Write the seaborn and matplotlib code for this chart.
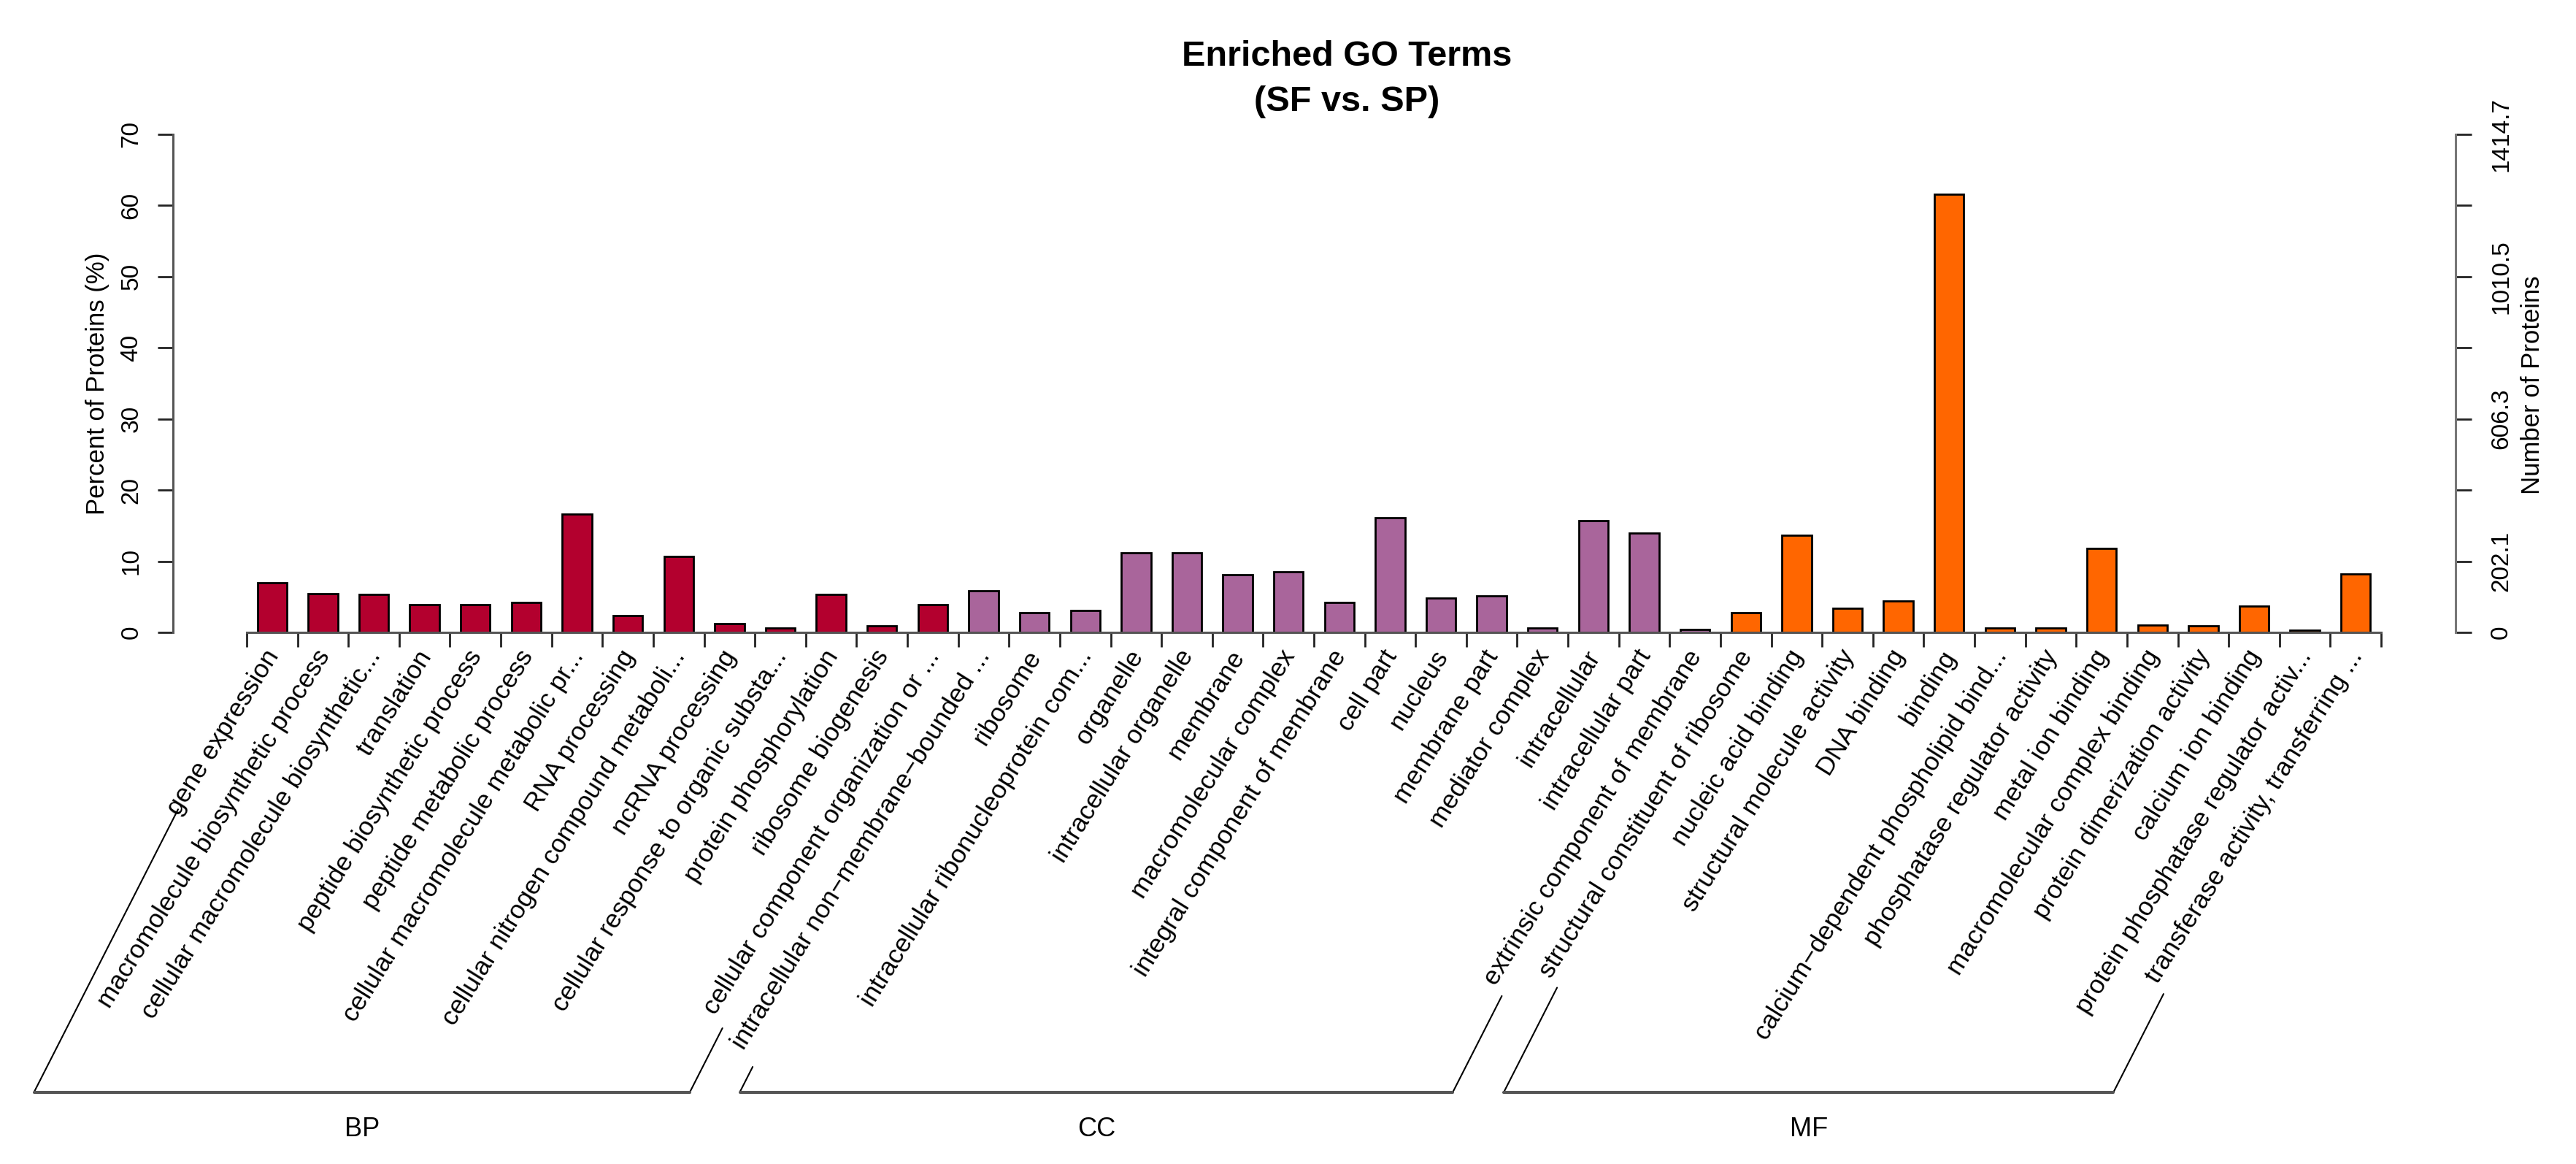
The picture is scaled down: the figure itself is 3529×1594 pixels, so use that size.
import numpy as np
import pandas as pd
import matplotlib
matplotlib.use("Agg")
import matplotlib.pyplot as plt
from matplotlib.lines import Line2D
import seaborn as sns

# ---- data ----
BP_TERMS = [
    "gene expression",
    "macromolecule biosynthetic process",
    "cellular macromolecule biosynthetic...",
    "translation",
    "peptide biosynthetic process",
    "peptide metabolic process",
    "cellular macromolecule metabolic pr...",
    "RNA processing",
    "cellular nitrogen compound metaboli...",
    "ncRNA processing",
    "cellular response to organic substa...",
    "protein phosphorylation",
    "ribosome biogenesis",
    "cellular component organization or ...",
]
BP_PERCENT = [7.0, 5.4, 5.3, 3.95, 3.95, 4.25, 16.6, 2.4, 10.7, 1.2, 0.65, 5.3, 0.9, 3.95]

CC_TERMS = [
    "intracellular non\u2212membrane\u2212bounded ...",
    "ribosome",
    "intracellular ribonucleoprotein com...",
    "organelle",
    "intracellular organelle",
    "membrane",
    "macromolecular complex",
    "integral component of membrane",
    "cell part",
    "nucleus",
    "membrane part",
    "mediator complex",
    "intracellular",
    "intracellular part",
    "extrinsic component of membrane",
]
CC_PERCENT = [5.9, 2.8, 3.1, 11.2, 11.2, 8.1, 8.5, 4.2, 16.1, 4.8, 5.1, 0.6, 15.7, 14.0, 0.4]

MF_TERMS = [
    "structural constituent of ribosome",
    "nucleic acid binding",
    "structural molecule activity",
    "DNA binding",
    "binding",
    "calcium\u2212dependent phospholipid bind...",
    "phosphatase regulator activity",
    "metal ion binding",
    "macromolecular complex binding",
    "protein dimerization activity",
    "calcium ion binding",
    "protein phosphatase regulator activ...",
    "transferase activity, transferring ...",
]
MF_PERCENT = [2.8, 13.7, 3.4, 4.4, 61.6, 0.6, 0.6, 11.8, 1.0, 0.9, 3.7, 0.35, 8.2]

GROUPS = ["BP", "CC", "MF"]
GROUP_COLORS = {"BP": "#B3002E", "CC": "#A9659B", "MF": "#FF6600"}

N_PROTEINS = 2021
LEFT_TICKS = [0, 10, 20, 30, 40, 50, 60, 70]
RIGHT_TICK_LABELS = ["0", "202.1", "", "606.3", "", "1010.5", "", "1414.7"]

TITLE = "Enriched GO Terms"
SUBTITLE = "(SF vs. SP)"

# ---- layout (pixels) ----
W, H = 3530, 1594
DPI = 100
LABEL_ANGLE = 58
BRACKET_ANGLE = 63


def main():
    sns.set_style("white")
    plt.rcParams["font.family"] = ["Liberation Sans", "DejaVu Sans"]
    plt.rcParams["text.color"] = "black"
    plt.rcParams["xtick.color"] = "black"
    plt.rcParams["ytick.color"] = "black"

    terms = BP_TERMS + CC_TERMS + MF_TERMS
    df = pd.DataFrame({
        "term": terms,
        "percent": BP_PERCENT + CC_PERCENT + MF_PERCENT,
        "group": ["BP"] * len(BP_TERMS) + ["CC"] * len(CC_TERMS) + ["MF"] * len(MF_TERMS),
    })
    n = len(terms)

    fig = plt.figure(figsize=(W / DPI, H / DPI), dpi=DPI)
    ax = fig.add_axes([237 / W, 1 - 866 / H, 3127 / W, 682 / H])

    sns.barplot(data=df, x="term", y="percent", hue="group", order=terms,
                hue_order=GROUPS, palette=GROUP_COLORS, dodge=False, width=0.58,
                saturation=1, edgecolor="black", linewidth=2, legend=False, ax=ax)

    slot = (3262 - 338) / n
    ax.set_xlim(-0.5 - (338 - 237) / slot, n - 0.5 + (3364 - 3262) / slot)
    ax.set_ylim(0, 70)
    ax.set_xlabel("")
    ax.set_ylabel("")
    ax.grid(False)

    for side in ["top", "right"]:
        ax.spines[side].set_visible(False)
    ax.spines["bottom"].set_bounds(-0.5, n - 0.5)
    for side in ["left", "bottom"]:
        ax.spines[side].set_color("#555555")
        ax.spines[side].set_linewidth(2.2)

    ax.set_xticks(np.arange(-0.5, n, 1))
    ax.set_xticklabels([])
    ax.tick_params(axis="x", length=14.5, width=2, color="#222222", bottom=True)

    ax.set_yticks(LEFT_TICKS)
    ax.tick_params(axis="y", length=15, width=2, color="#222222", left=True,
                   pad=15, labelsize=24, labelrotation=90, labelcolor="black")
    for lbl in ax.get_yticklabels():
        lbl.set_va("center")

    # right axis: number of proteins
    ax2 = ax.twinx()
    ax2.set_ylim(0, 70 * N_PROTEINS / 100)
    ax2.set_yticks([t * N_PROTEINS / 100 for t in LEFT_TICKS])
    ax2.set_yticklabels(RIGHT_TICK_LABELS)
    ax2.grid(False)
    for side in ["top", "left", "bottom"]:
        ax2.spines[side].set_visible(False)
    ax2.spines["right"].set_color("#777777")
    ax2.spines["right"].set_linewidth(2.2)
    ax2.tick_params(axis="y", length=16, width=2, color="#222222", right=True,
                    pad=18, labelsize=24, labelrotation=90, labelcolor="black")
    for lbl in ax2.get_yticklabels():
        lbl.set_va("center")

    fig.text(134 / W, 1 - 525 / H, "Percent of Proteins (%)", rotation=90,
             ha="center", va="center", fontsize=25)
    fig.text(3470 / W, 1 - 527 / H, "Number of Proteins", rotation=90,
             ha="center", va="center", fontsize=25)

    fig.text(1845 / W, 1 - 90 / H, TITLE, ha="center", va="baseline",
             fontsize=35, fontweight="bold")
    fig.text(1845 / W, 1 - 152 / H, SUBTITLE, ha="center", va="baseline",
             fontsize=35, fontweight="bold")

    # rotated category labels
    off_x, off_y = 2, -27
    texts = []
    for i, term in enumerate(terms):
        t = ax.annotate(term, xy=(i, 0), xycoords="data", xytext=(off_x, off_y),
                        textcoords="offset pixels", rotation=LABEL_ANGLE,
                        rotation_mode="anchor", ha="right", va="center",
                        fontsize=25.5, annotation_clip=False)
        texts.append(t)

    # group brackets: each side line starts just past the end of a label
    fig.canvas.draw()
    renderer = fig.canvas.get_renderer()
    tl = np.deg2rad(62)
    tb = np.deg2rad(BRACKET_ANGLE)
    y_br = H - 1495.5

    def slant(idx):
        t = texts[idx]
        w, h, d = renderer.get_text_width_height_descent(
            t.get_text(), t.get_fontproperties(), ismath=False)
        px, py = ax.transData.transform((idx, 0))
        reach = 1.056 * w
        tx, ty = px - reach * np.cos(tl), py - reach * np.sin(tl)
        bx = tx - (ty - y_br) / np.tan(tb)
        return (tx, ty), (bx, y_br)

    start = 0
    for g in GROUPS:
        cnt = int((df["group"] == g).sum())
        first, last = start, start + cnt - 1
        start += cnt
        (t1, b1) = slant(first)
        (t2, b2) = slant(last)
        for top, bot in [(t1, b1), (t2, b2)]:
            fig.add_artist(Line2D([top[0] / W, bot[0] / W], [top[1] / H, bot[1] / H],
                                  transform=fig.transFigure, color="black", lw=1.5))
        fig.add_artist(Line2D([b1[0] / W, b2[0] / W], [y_br / H, y_br / H],
                              transform=fig.transFigure, color="#555555", lw=3))
        fig.text((b1[0] + b2[0]) / 2 / W, 1 - 1546 / H, g, ha="center",
                 va="center", fontsize=26)

    fig.savefig("out.png", dpi=DPI)


if __name__ == "__main__":
    main()
